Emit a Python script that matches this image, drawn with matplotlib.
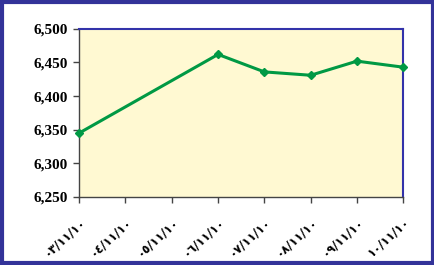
import matplotlib.pyplot as plt
from matplotlib.patches import Rectangle
from matplotlib.ticker import FuncFormatter, MultipleLocator
import numpy as np

# data (dates 04 and 05 have no value)
dates = ['٠٣/١١/١٠', '٠٤/١١/١٠', '٠٥/١١/١٠', '٠٦/١١/١٠',
         '٠٧/١١/١٠', '٠٨/١١/١٠', '٠٩/١١/١٠', '١٠/١١/١٠']
values = [6345, None, None, 6462, 6436, 6431, 6452, 6443]

x = np.arange(len(dates))
pts = [(i, v) for i, v in zip(x, values) if v is not None]
px = [p[0] for p in pts]
py = [p[1] for p in pts]

fig = plt.figure(figsize=(4.35, 2.65), dpi=100)
ax = fig.add_axes([0.182, 0.257, 0.745, 0.634])
ax.set_facecolor('#FFF9D2')

ax.plot(px, py, color='#009944', linewidth=2.2, marker='D', markersize=4.5,
        markerfacecolor='#009944', markeredgecolor='#009944', clip_on=False, zorder=3)

ax.set_xlim(0, len(dates) - 1)
ax.set_ylim(6250, 6500)
ax.yaxis.set_major_locator(MultipleLocator(50))
ax.yaxis.set_major_formatter(FuncFormatter(lambda v, p: f'{int(v):,}'))
ax.set_xticks(x)
ax.set_xticklabels(dates, rotation=42, ha='right', rotation_mode='anchor',
                   fontsize=8.5, fontweight='bold', family=['DejaVu Sans'])
for lab in ax.get_yticklabels():
    lab.set_fontsize(11)
    lab.set_fontweight('bold')
    lab.set_family('Liberation Serif')

ax.tick_params(axis='both', direction='out', length=4, width=1, color='#444444', pad=4)
ax.tick_params(axis='x', pad=9)
for s in ['top', 'right']:
    ax.spines[s].set_color('#3333AA')
    ax.spines[s].set_linewidth(1.5)
for s in ['left', 'bottom']:
    ax.spines[s].set_color('#444444')
    ax.spines[s].set_linewidth(1)

# outer chart frame
fig.patches.append(Rectangle((0.004, 0.006), 0.992, 0.988, transform=fig.transFigure,
                             fill=False, edgecolor='#333399', linewidth=3))

fig.savefig('out.png', dpi=100)
